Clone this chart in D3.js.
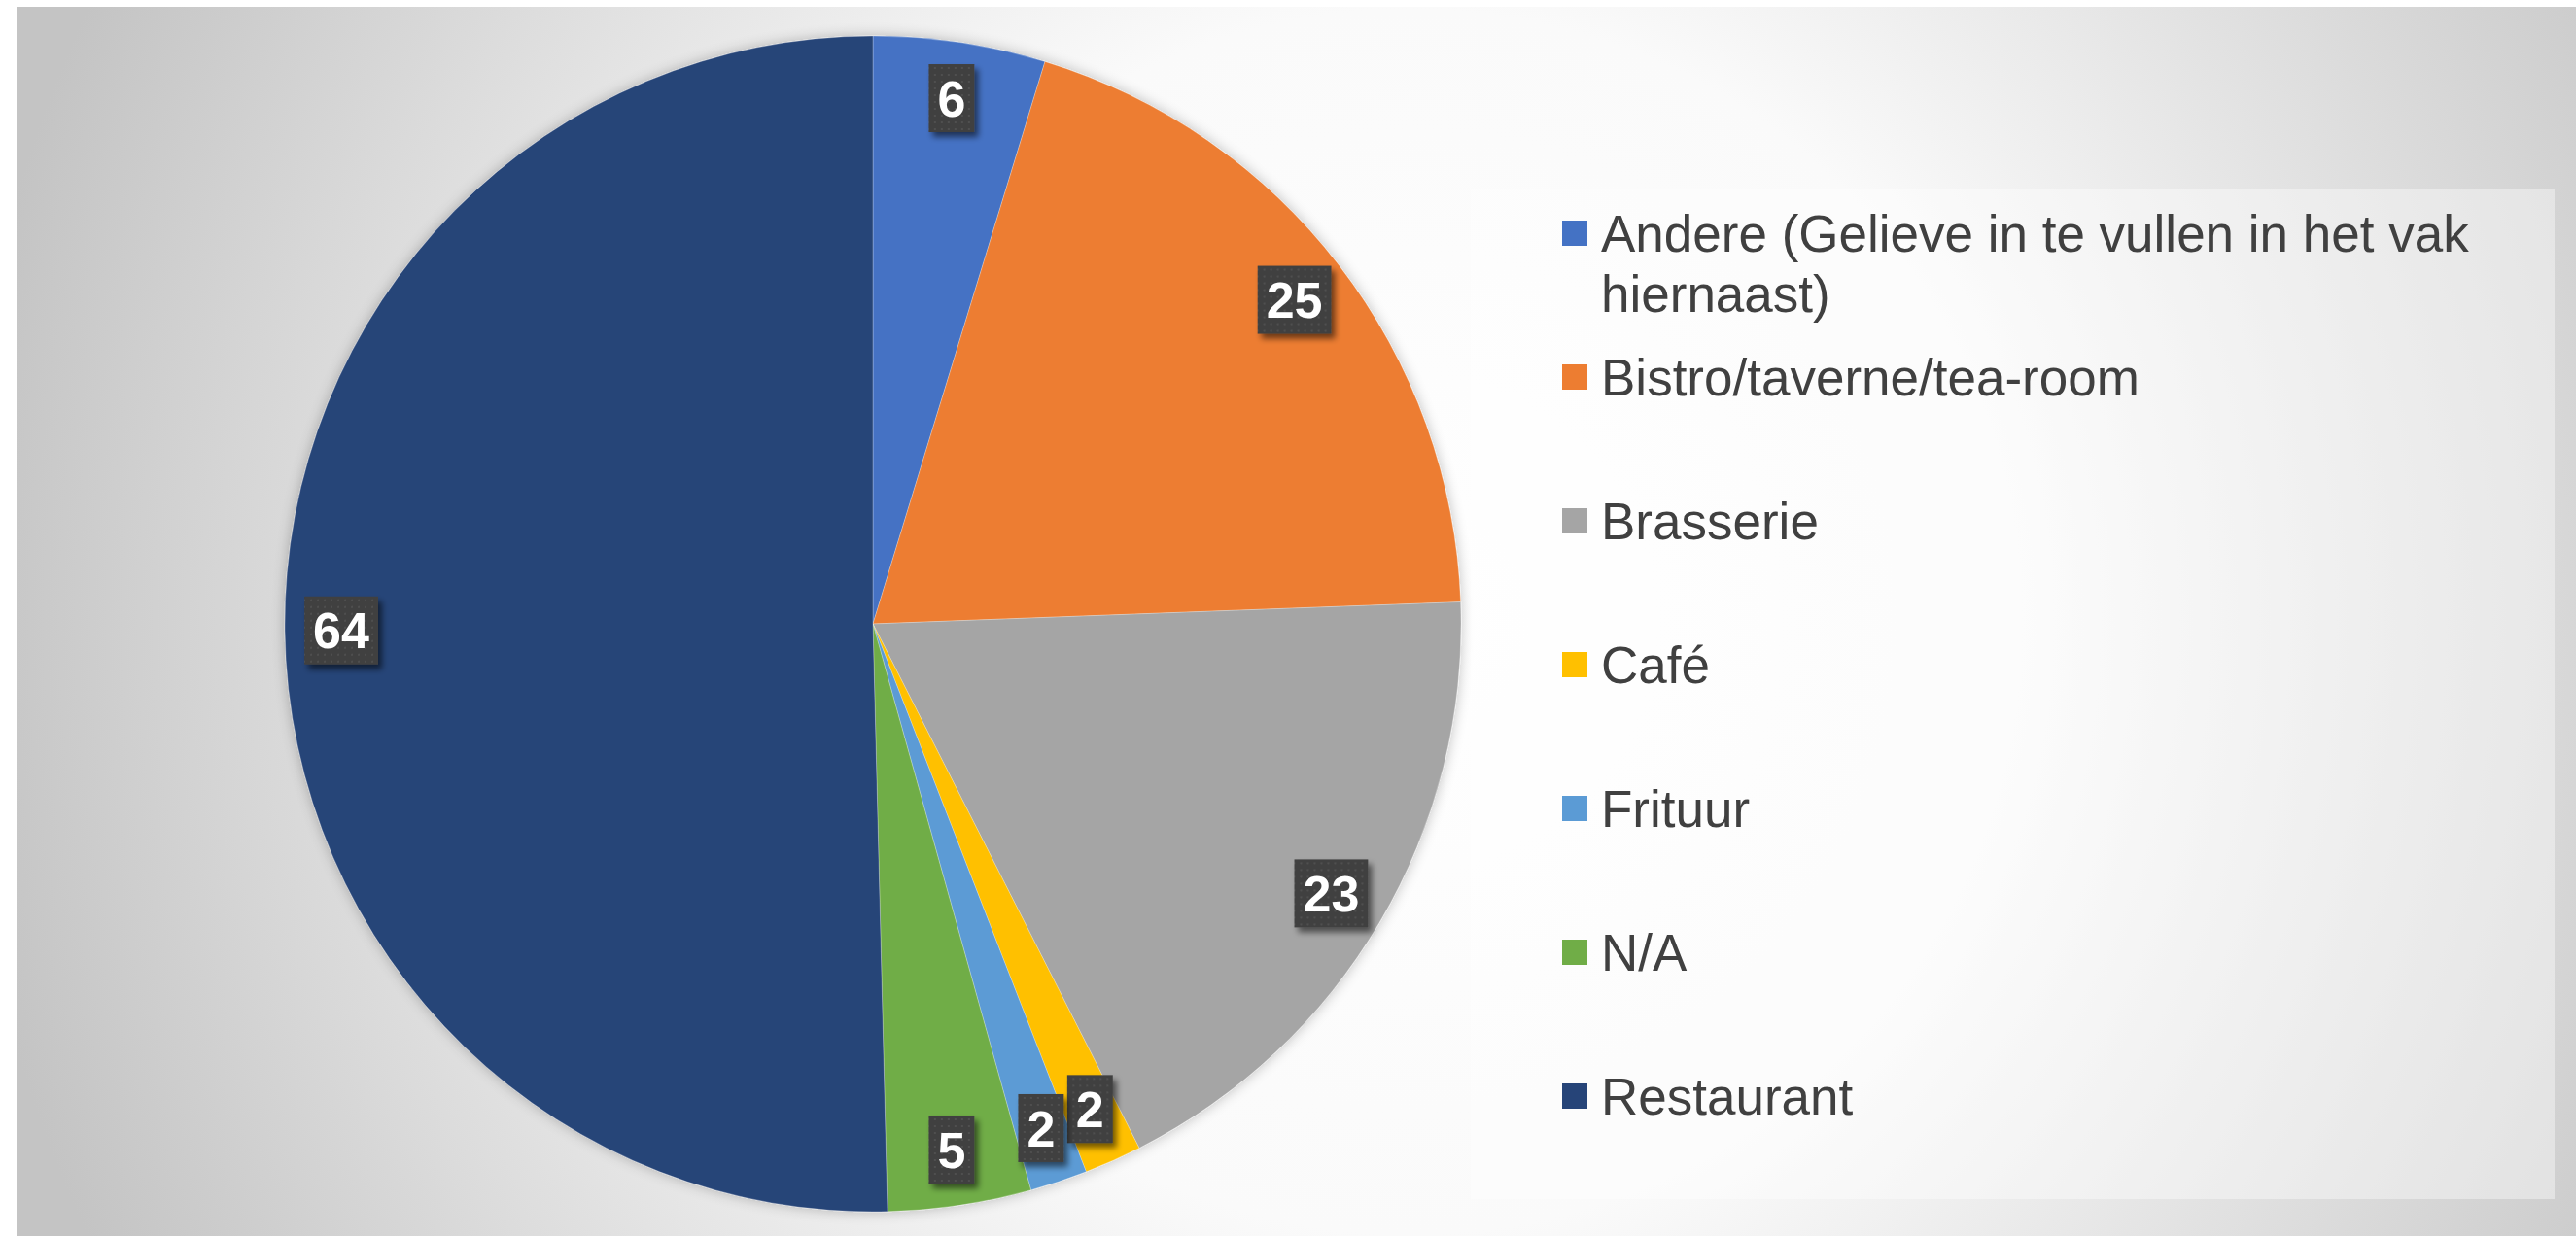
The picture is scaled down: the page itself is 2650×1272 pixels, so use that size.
<!DOCTYPE html>
<head>
    <meta charset="utf-8">
    <script src="https://d3js.org/d3.v7.min.js"></script>
    <style>
        body { margin:0; background:#fff; }
        svg { display:block; }
    </style>
</head>
<body>
<script>
    // data
    var categories = ["Andere (Gelieve in te vullen in het vak hiernaast)", "Bistro/taverne/tea-room",
        "Brasserie", "Café", "Frituur", "N/A", "Restaurant"];
    var values = [6, 25, 23, 2, 2, 5, 64];
    var colors = ["#4472C4", "#ED7D31", "#A5A5A5", "#FFC000", "#5B9BD5", "#70AD47", "#264478"];

    var width = 2650, height = 1272;
    var cx = 898, cy = 642, radius = 605, labelRadius = 547;

    var svg = d3.select("body").append("svg")
        .attr("width", width)
        .attr("height", height)
        .style("font-family", "'Liberation Sans', Arial, sans-serif");

    var defs = svg.append("defs");

    var bg = defs.append("radialGradient")
        .attr("id", "bg")
        .attr("gradientUnits", "userSpaceOnUse")
        .attr("cx", 1450).attr("cy", 640).attr("r", 1500);
    bg.append("stop").attr("offset", 0).attr("stop-color", "#ffffff");
    bg.append("stop").attr("offset", 0.42).attr("stop-color", "#fafafa");
    bg.append("stop").attr("offset", 1).attr("stop-color", "#c4c4c4");

    var glow = defs.append("filter").attr("id", "pieShadow")
        .attr("x", "-10%").attr("y", "-10%").attr("width", "120%").attr("height", "120%");
    glow.append("feGaussianBlur").attr("in", "SourceAlpha").attr("stdDeviation", 7);
    glow.append("feComponentTransfer").append("feFuncA").attr("type", "linear").attr("slope", 0.25);
    var gm = glow.append("feMerge");
    gm.append("feMergeNode");
    gm.append("feMergeNode").attr("in", "SourceGraphic");

    var lblShadow = defs.append("filter").attr("id", "lblShadow")
        .attr("x", "-30%").attr("y", "-30%").attr("width", "170%").attr("height", "170%");
    lblShadow.append("feGaussianBlur").attr("in", "SourceAlpha").attr("stdDeviation", 3);
    lblShadow.append("feOffset").attr("dx", 4).attr("dy", 5).attr("result", "off");
    lblShadow.append("feComponentTransfer").append("feFuncA").attr("type", "linear").attr("slope", 0.55);
    var lm = lblShadow.append("feMerge");
    lm.append("feMergeNode");
    lm.append("feMergeNode").attr("in", "SourceGraphic");

    var dots = defs.append("pattern").attr("id", "dots")
        .attr("patternUnits", "userSpaceOnUse")
        .attr("width", 7).attr("height", 7);
    dots.append("rect").attr("width", 7).attr("height", 7).attr("fill", "#404040");
    dots.append("rect").attr("x", 3).attr("y", 3).attr("width", 2).attr("height", 2).attr("fill", "#4f4f4f");

    // chart area
    svg.append("rect")
        .attr("x", 17).attr("y", 7)
        .attr("width", width - 17).attr("height", height - 7)
        .attr("fill", "url(#bg)");

    // pie
    var pie = d3.pie().sort(null).value(function(d) { return d; });
    var arcs = pie(values);
    var arc = d3.arc().innerRadius(0).outerRadius(radius);
    var labelArc = d3.arc().innerRadius(labelRadius).outerRadius(labelRadius);

    var g = svg.append("g").attr("transform", "translate(" + cx + "," + cy + ")");

    g.append("g").attr("filter", "url(#pieShadow)")
        .selectAll("path")
        .data(arcs)
        .enter().append("path")
        .attr("d", arc)
        .attr("fill", function(d, i) { return colors[i]; })
        .attr("stroke", "rgba(255,255,255,0.25)")
        .attr("stroke-width", 1);

    // data labels
    var labels = g.selectAll("g.lbl")
        .data(arcs)
        .enter().append("g")
        .attr("class", "lbl")
        .attr("transform", function(d) { return "translate(" + labelArc.centroid(d) + ")"; });

    labels.each(function(d) {
        var sel = d3.select(this);
        var t = sel.append("text")
            .attr("text-anchor", "middle")
            .attr("dy", "0.36em")
            .attr("fill", "#ffffff")
            .attr("font-weight", "bold")
            .attr("font-size", 52)
            .text(d.data);
        var w = t.node().getComputedTextLength() + 18;
        sel.insert("rect", "text")
            .attr("x", -w / 2).attr("y", -35)
            .attr("width", w).attr("height", 70)
            .attr("fill", "url(#dots)")
            .attr("filter", "url(#lblShadow)");
    });

    // legend
    svg.append("rect")
        .attr("x", 1513).attr("y", 194)
        .attr("width", 1115).attr("height", 1040)
        .attr("fill", "#ffffff").attr("fill-opacity", 0.4);

    var legend = svg.append("g").attr("transform", "translate(1607,240)");
    var item = legend.selectAll("g")
        .data(categories)
        .enter().append("g")
        .attr("transform", function(d, i) { return "translate(0," + (i * 148) + ")"; });

    item.append("rect")
        .attr("x", 0).attr("y", -13)
        .attr("width", 26).attr("height", 26)
        .attr("fill", function(d, i) { return colors[i]; });

    item.each(function(d) {
        var t = d3.select(this).append("text")
            .attr("fill", "#404040")
            .attr("font-size", 53);
        var words = d.split(" "), line = [];
        var ts = t.append("tspan").attr("x", 40).attr("dy", "0.36em");
        words.forEach(function(wd) {
            line.push(wd);
            ts.text(line.join(" "));
            if (ts.node().getComputedTextLength() > 920 && line.length > 1) {
                line.pop();
                ts.text(line.join(" "));
                line = [wd];
                ts = t.append("tspan").attr("x", 40).attr("dy", 62).text(wd);
            }
        });
    });
</script>
</body>
